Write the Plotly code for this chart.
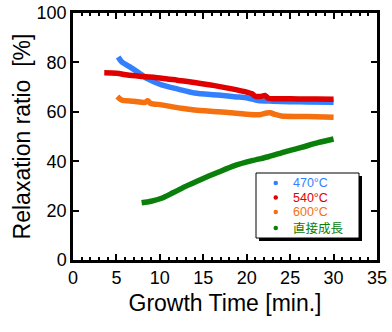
import plotly.graph_objects as go

# ---- data ----
series_names = ["470°C", "540°C", "600°C", "直接成長"]
series_colors = ["#3380ff", "#e00000", "#f5700f", "#0a800a"]

blue_x = [5.2, 5.6, 6.5, 7.5, 8.6, 10.2, 12.1, 14.0, 16.7, 18.6, 20.1, 21.3, 23.0, 25.0, 27.0, 30.0]
blue_y = [82.2, 80.3, 78.3, 76.0, 73.3, 70.9, 69.2, 67.6, 66.8, 66.1, 65.6, 64.6, 64.3, 64.1, 64.0, 63.9]

red_x = [3.6, 5.0, 6.3, 8.0, 10.2, 12.0, 14.0, 16.3, 18.0, 20.1, 20.6, 21.0, 21.6, 22.1, 22.5, 24.0, 26.0, 28.0, 30.0]
red_y = [75.8, 75.6, 74.9, 74.3, 73.6, 72.8, 71.9, 70.6, 69.5, 67.9, 67.3, 66.3, 66.2, 66.6, 65.5, 65.3, 65.2, 65.2, 65.1]

orange_x = [5.1, 5.6, 7.0, 8.3, 8.6, 8.9, 10.2, 12.5, 14.0, 16.7, 18.5, 20.1, 21.5, 22.3, 22.7, 23.2, 24.0, 26.0, 28.0, 30.0]
orange_y = [66.2, 64.8, 64.3, 63.8, 64.5, 63.5, 62.8, 61.4, 60.7, 60.0, 59.5, 59.0, 58.8, 59.5, 59.6, 59.0, 58.3, 58.1, 58.0, 57.8]

green_x = [7.9, 9.0, 10.2, 11.5, 12.9, 14.8, 16.7, 18.6, 20.6, 22.5, 24.4, 26.3, 28.2, 30.0]
green_y = [23.2, 23.8, 25.0, 27.2, 29.7, 32.7, 35.5, 38.2, 40.2, 41.8, 43.8, 45.6, 47.5, 49.0]

x_ticks = [0, 5, 10, 15, 20, 25, 30, 35]
y_ticks = [0, 20, 40, 60, 80, 100]

series = [(blue_x, blue_y), (red_x, red_y), (orange_x, orange_y), (green_x, green_y)]

# ---- layout geometry (pixels) ----
W, H = 392, 332
ML, MR, MT, MB = 73, 15, 13, 72
PW, PH = W - ML - MR, H - MT - MB

def px(xp):
    return (xp - ML) / PW

def py(yp):
    return (H - MB - yp) / PH

FONT = "Arial, Liberation Sans, Noto Sans CJK JP, sans-serif"

fig = go.Figure()
for (xs, ys), name, col in zip(series, series_names, series_colors):
    fig.add_trace(go.Scatter(x=xs, y=ys, mode="lines", name=name,
                             line=dict(color=col, width=5.5, shape="spline", smoothing=0.8),
                             showlegend=False))

axis_common = dict(
    showline=True, linecolor="black", linewidth=2.5, mirror="ticks",
    ticks="inside", ticklen=6, tickwidth=1.5, tickcolor="black",
    showgrid=False, zeroline=False,
    tickfont=dict(family=FONT, size=18, color="black"),
)
fig.update_xaxes(range=[0, 35], tickvals=x_ticks, ticktext=[str(v) for v in x_ticks],
                 minor=dict(ticks="inside", ticklen=3, tickwidth=1.5, dtick=1, tick0=0, tickcolor="black"),
                 title=dict(text="Growth Time [min.]", font=dict(family=FONT, size=23, color="black"), standoff=8),
                 **axis_common)
fig.update_yaxes(range=[0, 100], tickvals=y_ticks, ticktext=[str(v) for v in y_ticks],
                 title=dict(text="Relaxation ratio  [%]", font=dict(family=FONT, size=23, color="black"), standoff=0),
                 **axis_common)

# ---- legend drawn as box + markers + text ----
bx0, by0, bx1, by1 = 256, 173, 359, 238
shapes = [
    dict(type="rect", xref="paper", yref="paper", x0=px(bx0 + 3), x1=px(bx1 + 3), y0=py(by1 + 3), y1=py(by0 + 3),
         fillcolor="black", line=dict(width=0), layer="above"),
    dict(type="rect", xref="paper", yref="paper", x0=px(bx0), x1=px(bx1), y0=py(by1), y1=py(by0),
         fillcolor="white", line=dict(color="black", width=1), layer="above"),
]
annotations = []
row_y = [183.0, 197.5, 212.0, 228.0]
for name, col, ry in zip(series_names, series_colors, row_y):
    shapes.append(dict(type="circle", xref="paper", yref="paper",
                       x0=px(273.5), x1=px(278), y0=py(ry + 2.2), y1=py(ry - 2.2),
                       fillcolor=col, line=dict(width=0), layer="above"))
    annotations.append(dict(xref="paper", yref="paper", x=px(292), y=py(ry), xanchor="left", yanchor="middle",
                            text=name, showarrow=False, borderpad=0,
                            font=dict(family=FONT, size=12.5, color=col)))

fig.update_layout(
    width=W, height=H, margin=dict(l=ML, r=MR, t=MT, b=MB, autoexpand=False),
    paper_bgcolor="white", plot_bgcolor="white", showlegend=False,
    shapes=shapes, annotations=annotations,
)
fig.write_html("out.html")
